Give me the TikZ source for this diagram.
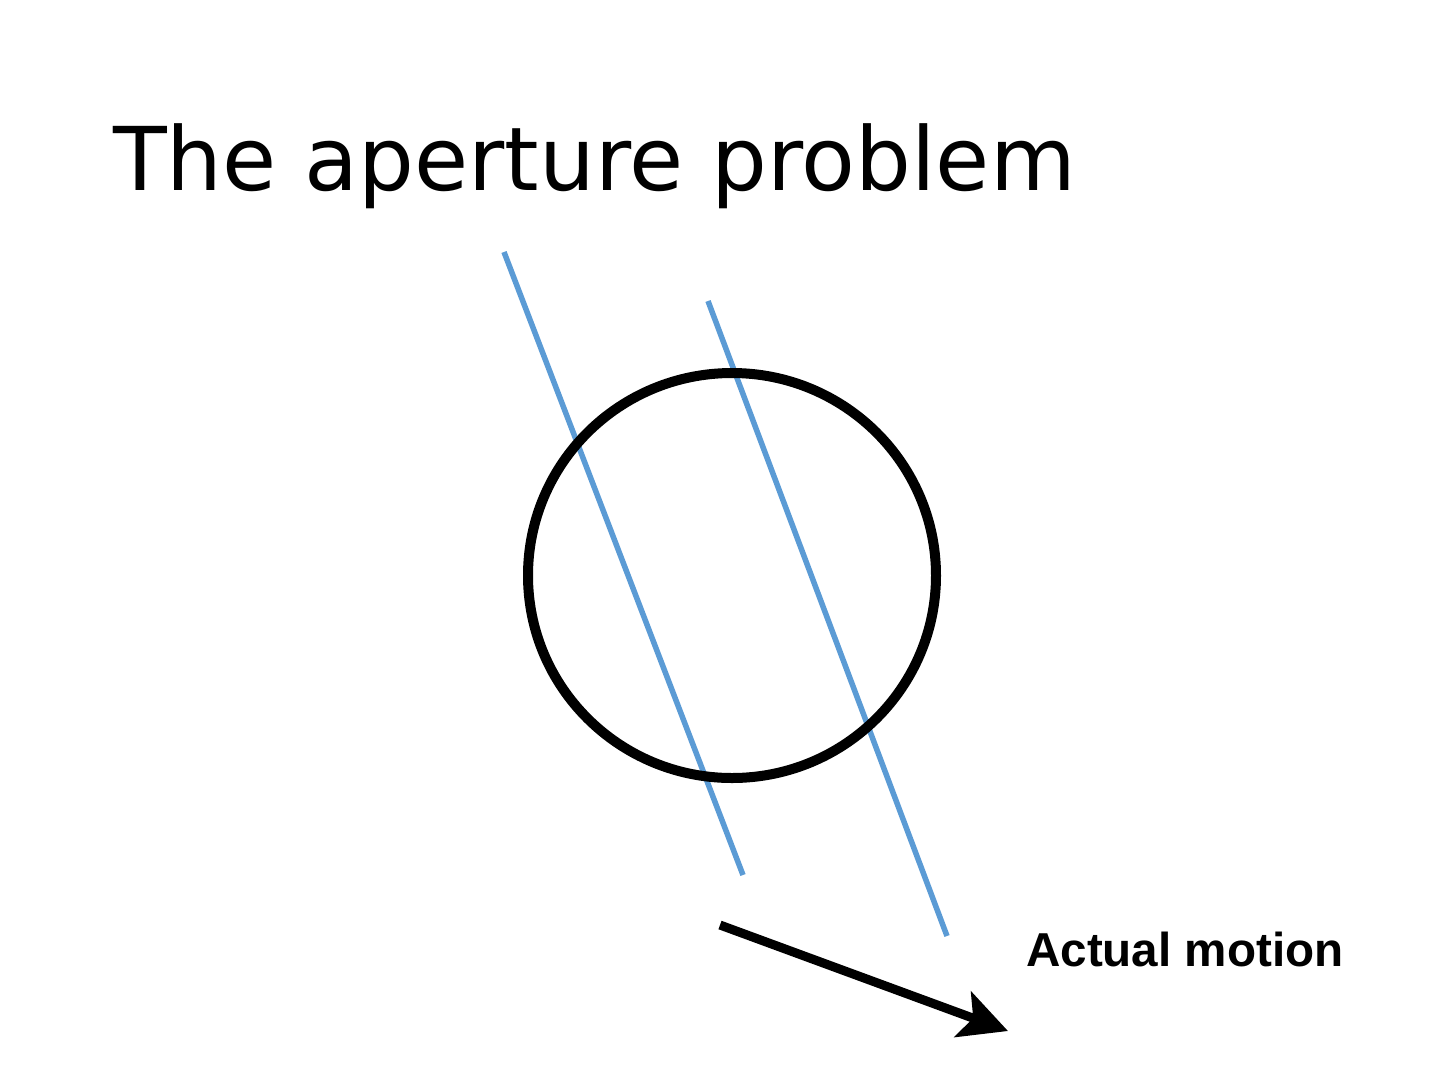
\documentclass[tikz,border=0pt]{standalone}
\usepackage{fontspec}
\usetikzlibrary{shapes.geometric,arrows.meta}
\newfontfamily\titlefont{DejaVu Sans}
\newfontfamily\labelfont{Liberation Sans}
\definecolor{edgeblue}{HTML}{5B9BD5}
\begin{document}
\begin{tikzpicture}[x=1pt,y=-1pt,
  gratingline/.style={draw=edgeblue,line width=5.5pt},
  aperturering/.style={draw=black,line width=10pt,ellipse,inner sep=0pt,minimum width=408pt,minimum height=405pt},
  motionarrow/.style={draw=black,line width=9pt,-{Stealth[length=48pt,width=48pt,inset=11pt]}},
  titletext/.style={anchor=base west,inner sep=0pt,font=\titlefont\fontsize{88}{100}\selectfont},
  labeltext/.style={anchor=base west,inner sep=0pt,font=\labelfont\bfseries\fontsize{47.6}{56}\selectfont}]
\useasboundingbox[fill=white] (0,0) rectangle (1440,1080);
\node[titletext] (title) at (113,190) {The aperture problem};
\coordinate (l1a) at (504,252);
\coordinate (l1b) at (743,875);
\coordinate (l2a) at (708,301);
\coordinate (l2b) at (947,936);
\draw[gratingline] (l1a) -- (l1b);
\draw[gratingline] (l2a) -- (l2b);
\node[aperturering] (ring) at (732,575.5) {};
\coordinate (ms) at (720,925);
\coordinate (me) at (1008,1031);
\draw[motionarrow] (ms) -- (me);
\node[labeltext] (label) at (1026,966) {Actual motion};
\end{tikzpicture}
\end{document}
